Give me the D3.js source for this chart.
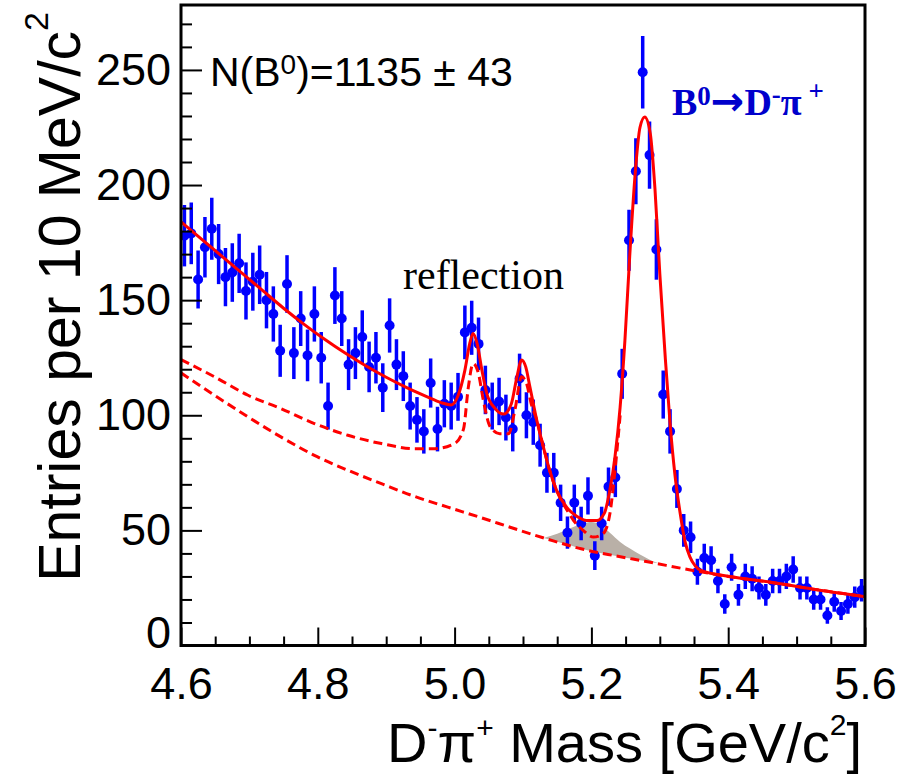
<!DOCTYPE html>
<html>
<head>
<meta charset="utf-8">
<script src="https://cdn.jsdelivr.net/npm/d3@7"></script>
<style>
  html, body { margin: 0; padding: 0; background: #fff; }
  svg { display: block; font-family: "Liberation Sans", Arial, Helvetica, sans-serif; }
</style>
</head>
<body>
<div id="chart"></div>
<script>
// D- pi+ invariant mass, 10 MeV bins from 4.6 to 5.6 GeV/c^2
const MASS_MIN = 4.6;
const MASS_MAX = 5.6;
const BIN_WIDTH = 0.01;

const counts = [
    178, 179, 159, 173, 181, 170, 160, 162, 166, 154,
    158, 161, 150, 144, 128, 157, 127, 142, 126, 144,
    125, 104, 152, 142, 122, 127, 134, 121, 125, 112,
    139, 122, 117, 104, 98, 93, 114, 94, 105, 104,
    108, 136, 138, 131, 111, 104, 106, 99, 94, 116,
    100, 97, 87, 75, 75, 62, 49, 62, 53, 65,
    39, 53, 69, 73, 118, 176, 206, 249, 213, 172,
    109, 93, 68, 50, 47, 32, 38, 37, 28, 18,
    34, 22, 30, 29, 25, 22, 28, 28, 30, 33,
    25, 25, 20, 20, 13, 19, 15, 18, 21, 24
];

// fit curves: [mass, entries]
const totalFit = [
    [4.600, 184], [4.630, 176.5], [4.660, 169], [4.690, 161.5], [4.720, 154],
    [4.750, 146.5], [4.780, 139.5], [4.810, 133], [4.840, 127], [4.870, 121.5],
    [4.900, 116.5], [4.930, 112], [4.960, 108], [4.980, 105.5], [4.995, 104.5],
    [5.005, 108.5], [5.015, 119.5], [5.022, 131], [5.027, 135.5], [5.033, 131],
    [5.040, 119.5], [5.047, 109.5], [5.059, 103], [5.072, 100.5], [5.083, 105],
    [5.091, 116.5], [5.098, 124], [5.104, 121], [5.110, 112.5], [5.120, 98],
    [5.130, 86], [5.139, 76], [5.149, 67.5], [5.164, 60], [5.179, 56],
    [5.193, 54.3], [5.208, 54.3], [5.219, 57.5], [5.227, 67.5], [5.2345, 82],
    [5.242, 103.5], [5.249, 132.5], [5.256, 169], [5.264, 205], [5.271, 225],
    [5.278, 229.5], [5.286, 222.5], [5.293, 198], [5.300, 161.5], [5.308, 125],
    [5.315, 96.5], [5.322, 74.5], [5.330, 57], [5.337, 45], [5.344, 38.5],
    [5.352, 34.5], [5.360, 32.6], [5.400, 30.1], [5.465, 27.4], [5.530, 24.2],
    [5.600, 21.2]
];

const reflectionFit = [
    [4.600, 124.2], [4.649, 116.7], [4.698, 108.7], [4.746, 102.9], [4.795, 96.4],
    [4.844, 91.3], [4.893, 87.7], [4.942, 85.5], [4.971, 85.5], [5.000, 87.7],
    [5.013, 94], [5.020, 112], [5.027, 122.5], [5.035, 118], [5.042, 106.5],
    [5.052, 95], [5.066, 92], [5.079, 92], [5.088, 102], [5.098, 116.7],
    [5.105, 114], [5.112, 105], [5.120, 98], [5.130, 86], [5.139, 76],
    [5.149, 67.5], [5.164, 59], [5.174, 54.3], [5.188, 50], [5.203, 47.1],
    [5.217, 48.6], [5.227, 57.2], [5.2345, 76], [5.242, 100]
];

const backgroundFit = [
    [4.600, 118.4], [4.649, 108.7], [4.698, 99.3], [4.746, 90.6], [4.795, 82.6],
    [4.844, 76.1], [4.893, 70.3], [4.941, 64.8], [4.990, 60.1], [5.039, 55.5],
    [5.088, 50.7], [5.136, 46.2], [5.185, 42], [5.234, 39], [5.278, 36.6],
    [5.354, 32.3], [5.400, 30], [5.465, 27.3], [5.530, 24.2], [5.600, 21.2]
];

// peaking background band: [mass, lower, upper]
const peakingBand = [
    [5.130, 46.7, 46.7], [5.150, 45.1, 48.5], [5.170, 43.4, 51], [5.188, 41.8, 53],
    [5.200, 41.0, 53.6], [5.213, 40.2, 52.4], [5.227, 39.4, 49], [5.242, 38.6, 45],
    [5.257, 37.8, 42], [5.271, 37.0, 39.5], [5.290, 36.1, 36.6], [5.300, 35.6, 35.6]
];

const xTicksMajor = [4.6, 4.8, 5.0, 5.2, 5.4, 5.6];
const yTicksMajor = [0, 50, 100, 150, 200, 250];

const W = 912, H = 780;
const margin = { top: 5, right: 47, bottom: 134.5, left: 181 };
const Y_MAX = 278.2;

const svg = d3.select("#chart").append("svg")
    .attr("width", W)
    .attr("height", H);

const x = d3.scaleLinear()
    .domain([MASS_MIN, MASS_MAX])
    .range([margin.left, W - margin.right]);

const y = d3.scaleLinear()
    .domain([0, Y_MAX])
    .range([H - margin.bottom, margin.top]);

svg.append("defs").append("clipPath")
    .attr("id", "frame-clip")
    .append("rect")
    .attr("x", margin.left)
    .attr("y", margin.top)
    .attr("width", W - margin.left - margin.right)
    .attr("height", H - margin.top - margin.bottom);

const plot = svg.append("g").attr("clip-path", "url(#frame-clip)");

// gray peaking component
plot.append("path")
    .attr("fill", "#b9b0a7")
    .attr("d", d3.area()
        .curve(d3.curveMonotoneX)
        .x(d => x(d[0]))
        .y0(d => y(d[1]))
        .y1(d => y(d[2]))
        (peakingBand));

// data points with poisson errors
const bins = counts.map((n, i) => ({ m: MASS_MIN + BIN_WIDTH * (i + 0.5), n }));

const pts = plot.append("g").attr("class", "data");
pts.selectAll("line")
    .data(bins)
    .join("line")
    .attr("x1", d => x(d.m))
    .attr("x2", d => x(d.m))
    .attr("y1", d => y(d.n - Math.sqrt(d.n)))
    .attr("y2", d => y(d.n + Math.sqrt(d.n)))
    .attr("stroke", "#0000ff")
    .attr("stroke-width", 3.5);
pts.selectAll("circle")
    .data(bins)
    .join("circle")
    .attr("cx", d => x(d.m))
    .attr("cy", d => y(d.n))
    .attr("r", 5)
    .attr("fill", "#0000ff");

const line = d3.line()
    .curve(d3.curveMonotoneX)
    .x(d => x(d[0]))
    .y(d => y(d[1]));

plot.append("path")
    .attr("fill", "none")
    .attr("stroke", "#ff0000")
    .attr("stroke-width", 3)
    .attr("stroke-dasharray", "9,5")
    .attr("d", line(backgroundFit));

plot.append("path")
    .attr("fill", "none")
    .attr("stroke", "#ff0000")
    .attr("stroke-width", 3)
    .attr("stroke-dasharray", "9,5")
    .attr("d", line(reflectionFit));

plot.append("path")
    .attr("fill", "none")
    .attr("stroke", "#ff0000")
    .attr("stroke-width", 3)
    .attr("d", line(totalFit));

// axes, ticks pointing into the frame
const minorX = d3.range(0, 21).map(i => +(MASS_MIN + i * 0.05).toFixed(2))
    .filter(v => !xTicksMajor.some(t => Math.abs(t - v) < 1e-6));
const minorY = d3.range(0, 28).map(i => i * 10).filter(v => v % 50 !== 0);

svg.append("g")
    .attr("transform", `translate(0,${H - margin.bottom})`)
    .call(d3.axisBottom(x).tickValues(minorX).tickSize(-9).tickFormat(""))
    .call(g => g.select(".domain").remove())
    .call(g => g.selectAll("line").attr("stroke-width", 2));

svg.append("g")
    .attr("transform", `translate(0,${H - margin.bottom})`)
    .call(d3.axisBottom(x).tickValues(xTicksMajor).tickSize(-18).tickPadding(22).tickFormat(d3.format(".1f")))
    .call(g => g.select(".domain").remove())
    .call(g => g.selectAll("line").attr("stroke-width", 2))
    .call(g => g.selectAll("text")
        .attr("font-size", 45)
        .attr("font-family", "Liberation Sans, Arial, sans-serif")
        .attr("fill", "#000"));

svg.append("g")
    .attr("transform", `translate(${margin.left},0)`)
    .call(d3.axisLeft(y).tickValues(minorY).tickSize(-11).tickFormat(""))
    .call(g => g.select(".domain").remove())
    .call(g => g.selectAll("line").attr("stroke-width", 2));

svg.append("g")
    .attr("transform", `translate(${margin.left},0)`)
    .call(d3.axisLeft(y).tickValues(yTicksMajor).tickSize(-21).tickPadding(10).tickFormat(d3.format("d")))
    .call(g => g.select(".domain").remove())
    .call(g => g.selectAll("line").attr("stroke-width", 2))
    .call(g => g.selectAll("text")
        .attr("font-size", 45)
        .attr("font-family", "Liberation Sans, Arial, sans-serif")
        .attr("fill", "#000"))
    .call(g => g.selectAll(".tick").filter(d => d === 0).select("text").attr("dy", "0.05em"));

// frame
svg.append("rect")
    .attr("x", margin.left)
    .attr("y", margin.top)
    .attr("width", W - margin.left - margin.right)
    .attr("height", H - margin.top - margin.bottom)
    .attr("fill", "none")
    .attr("stroke", "#000")
    .attr("stroke-width", 3);

// yield label
const yieldLabel = svg.append("text")
    .attr("x", 210)
    .attr("y", 86)
    .attr("font-size", 41);
yieldLabel.append("tspan").text("N(B");
yieldLabel.append("tspan").attr("font-size", 28).attr("dy", -12).text("0");
yieldLabel.append("tspan").attr("dy", 12).text(")=1135 \u00b1 43");

svg.append("text")
    .attr("x", 403)
    .attr("y", 289)
    .attr("font-family", "Liberation Serif, Times New Roman, serif")
    .attr("font-size", 42)
    .text("reflection");

const decay = svg.append("text")
    .attr("x", 672)
    .attr("y", 115)
    .attr("font-family", "Liberation Serif, Times New Roman, serif")
    .attr("font-weight", "bold")
    .attr("font-size", 38)
    .attr("fill", "#0000cc");
decay.append("tspan").text("B");
decay.append("tspan").attr("font-size", 27).attr("dy", -10).text("0");
decay.append("tspan").attr("dy", 10).attr("font-family", "DejaVu Sans").attr("font-size", 40).text("\u2192");
decay.append("tspan").text("D");
decay.append("tspan").attr("font-size", 27).attr("dy", -12).text("-");
decay.append("tspan").attr("dy", 12).text("\u03c0");
decay.append("tspan").attr("font-size", 27).attr("dy", -15).text(" +");

// axis titles
const xTitle = svg.append("text")
    .attr("x", 862)
    .attr("y", 762)
    .attr("text-anchor", "end")
    .attr("font-size", 56);
xTitle.append("tspan").text("D");
xTitle.append("tspan").attr("font-size", 30).attr("dy", -24).text("-");
xTitle.append("tspan").attr("dy", 24).text("\u03c0");
xTitle.append("tspan").attr("font-size", 30).attr("dy", -24).text("+");
xTitle.append("tspan").attr("dy", 24).text(" Mass [GeV/c");
xTitle.append("tspan").attr("font-size", 30).attr("dy", -27).text("2");
xTitle.append("tspan").attr("dy", 27).text("]");

const yTitle = svg.append("text")
    .attr("transform", "translate(80,12) rotate(-90)")
    .attr("text-anchor", "end")
    .attr("font-size", 59);
yTitle.append("tspan").text("Entries per 10 MeV/c");
yTitle.append("tspan").attr("font-size", 34).attr("dy", -32).text("2");
</script>
</body>
</html>
